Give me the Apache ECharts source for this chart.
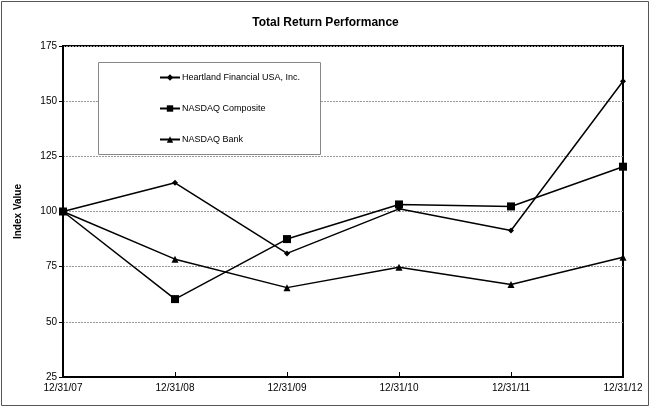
<!DOCTYPE html>
<html><head><meta charset="utf-8">
<script src="https://cdn.jsdelivr.net/npm/echarts@6/dist/echarts.min.js"></script>
<style>html,body{margin:0;padding:0;background:#fff}#c{width:651px;height:410px}</style>
</head><body><div id="c"></div>
<script>
var categories = ['12/31/07','12/31/08','12/31/09','12/31/10','12/31/11','12/31/12'];
var heartland = [100, 113, 81, 101.2, 91.4, 159];
var nasdaqComposite = [100, 60.3, 87.5, 103.2, 102.3, 120.3];
var nasdaqBank = [100, 78.4, 65.5, 74.7, 66.9, 79.3];
var seriesNames = ['Heartland Financial USA, Inc.', 'NASDAQ Composite', 'NASDAQ Bank'];
var yTicks = [25, 50, 75, 100, 125, 150, 175];

var font = 'Liberation Sans, Arial, sans-serif';
var chart = echarts.init(document.getElementById('c'), null, {renderer: 'canvas'});
function mkSeries(name, data, symbol, size) {
  return {
    name: name, type: 'line', data: data, symbol: symbol, symbolSize: size,
    itemStyle: {color: '#000'}, lineStyle: {color: '#000', width: 1.5},
    emphasis: {disabled: true}, animation: false
  };
}
chart.setOption({
  animation: false,
  backgroundColor: '#fff',
  title: {
    text: 'Total Return Performance', left: 'center', top: 12,
    textStyle: {fontFamily: font, fontSize: 12, fontWeight: 'bold', color: '#000'}
  },
  graphic: [
    {type: 'rect', shape: {x: 1.5, y: 1.5, width: 647, height: 404}, style: {fill: 'none', stroke: '#555', lineWidth: 1}, z: 0},
    {type: 'rect', shape: {x: 98.5, y: 62.5, width: 222, height: 92}, style: {fill: '#fff', stroke: '#888', lineWidth: 1}, z: 5}
  ],
  legend: {
    orient: 'vertical', left: 154, top: 68, itemGap: 22, itemWidth: 20, itemHeight: 8,
    data: seriesNames, z: 10,
    textStyle: {fontFamily: font, fontSize: 9, color: '#000', padding: [0,0,0,-3]},
    selectedMode: false
  },
  grid: {left: 63, right: 28, top: 46, bottom: 33, containLabel: false,
    show: true, borderColor: '#000', borderWidth: 2, backgroundColor: 'transparent'},
  xAxis: {
    type: 'category', data: categories, boundaryGap: false,
    axisLine: {lineStyle: {color: '#000', width: 2}},
    axisTick: {show: true, inside: true, length: 5, lineStyle: {color: '#000'}},
    axisLabel: {fontFamily: font, fontSize: 10, color: '#000', margin: 6},
    splitLine: {show: false}
  },
  yAxis: {
    type: 'value', min: 25, max: 175, interval: 25,
    name: 'Index Value', nameLocation: 'middle', nameGap: 40,
    nameTextStyle: {fontFamily: font, fontSize: 10, fontWeight: 'bold', color: '#000'},
    axisLine: {show: true, lineStyle: {color: '#000', width: 2}},
    axisTick: {show: true, length: 4, lineStyle: {color: '#000'}},
    axisLabel: {fontFamily: font, fontSize: 10, color: '#000', margin: 6,
      formatter: function(v){ return yTicks.indexOf(v) >= 0 ? String(v) : ''; }},
    splitLine: {show: true, lineStyle: {color: '#999', type: [2, 1], width: 1}}
  },
  series: [
    mkSeries(seriesNames[0], heartland, 'diamond', 6),
    mkSeries(seriesNames[1], nasdaqComposite, 'rect', 8),
    mkSeries(seriesNames[2], nasdaqBank, 'triangle', 7)
  ]
});
</script>
</body></html>
